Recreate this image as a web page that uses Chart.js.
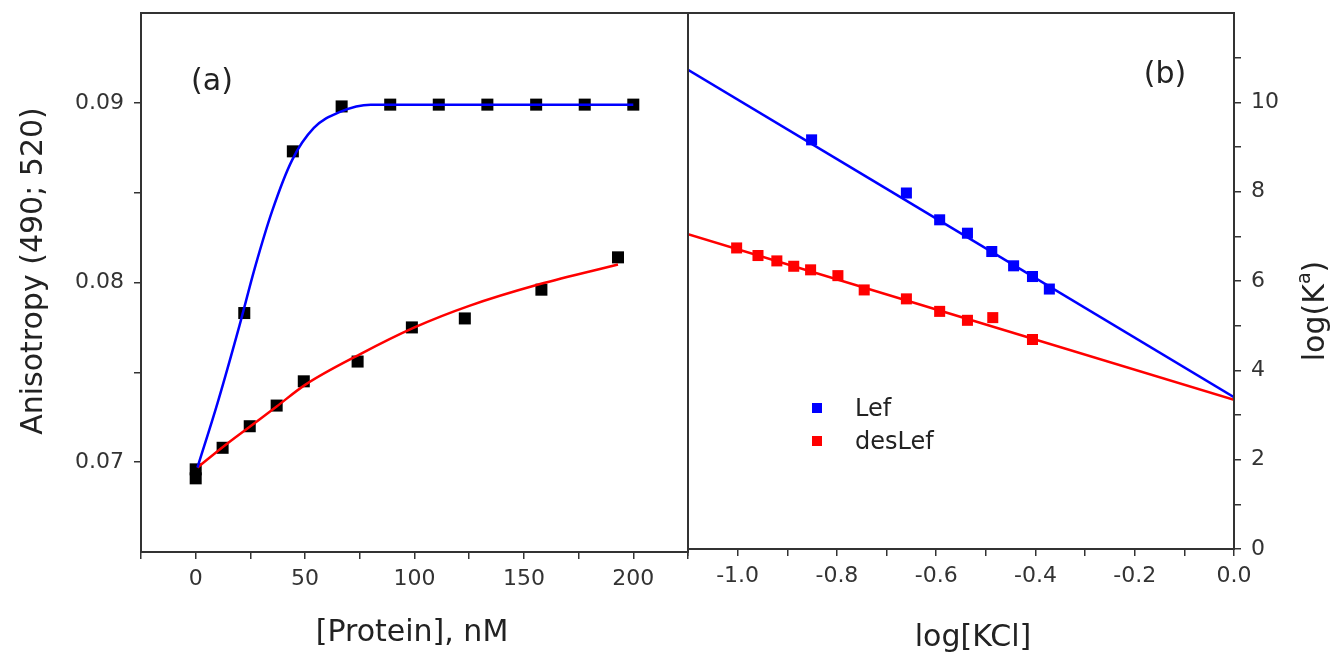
<!DOCTYPE html>
<html>
<head>
<meta charset="utf-8">
<script src="https://cdn.jsdelivr.net/npm/chart.js@4.4.0/dist/chart.umd.min.js"></script>
<style>
  html, body { margin: 0; padding: 0; background: #fff; }
  #wrap { position: relative; width: 1339px; height: 656px; overflow: hidden; }
  canvas { position: absolute; top: 0; }
  #chartA { left: 0; }
  #chartB { left: 680px; }
</style>
</head>
<body>
<div id="wrap">
  <canvas id="chartA" width="700" height="656"></canvas>
  <canvas id="chartB" width="659" height="656"></canvas>
</div>
<script>
// ---- panel (a): anisotropy vs protein concentration ----
const protLef  = [0, 22.2, 44.4, 66.7, 88.9, 111.1, 133.3, 155.6, 177.8, 200];
const anisoLef = [0.0696, 0.0783, 0.0873, 0.0898, 0.0899, 0.0899, 0.0899, 0.0899, 0.0899, 0.0899];
const protDes  = [0, 12.3, 24.7, 37.0, 49.4, 74.0, 98.8, 123.0, 158.0, 193.0];
const anisoDes = [0.0691, 0.0708, 0.0720, 0.07315, 0.0745, 0.0756, 0.0775, 0.0780, 0.0796, 0.0814];
// fitted curves
const fitLefX = [0.8, 10, 20, 27, 35, 44, 54, 66, 80, 100, 200];
const fitLefY = [0.0697, 0.0733, 0.0776, 0.0808, 0.0840, 0.0868, 0.0886, 0.0895, 0.0899, 0.0899, 0.0899];
const fitDesX = [0.8, 13, 25, 37, 50, 75, 100, 125, 157, 193];
const fitDesY = [0.0697, 0.0709, 0.0720, 0.0731, 0.0743, 0.0760, 0.0775, 0.0787, 0.0799, 0.0810];

const protTicks   = [-25, 0, 25, 50, 75, 100, 125, 150, 175, 200, 225];
const protLabels  = ['0', '50', '100', '150', '200'];
const anisoTicks  = [0.07, 0.075, 0.08, 0.085, 0.09];
const anisoLabels = ['0.07', '0.08', '0.09'];

// ---- panel (b): log K vs log[KCl] ----
const kclLef  = [-0.851, -0.660, -0.593, -0.537, -0.488, -0.444, -0.406, -0.372];
const logKLef = [9.16, 7.97, 7.37, 7.07, 6.66, 6.34, 6.10, 5.82];
const kclDes  = [-1.002, -0.959, -0.921, -0.887, -0.853, -0.798, -0.745, -0.660, -0.593, -0.537, -0.486, -0.406];
const logKDes = [6.74, 6.57, 6.45, 6.33, 6.25, 6.12, 5.80, 5.60, 5.32, 5.12, 5.18, 4.69];
const fitKclX    = [-1.1, 0];
const fitLogKLef = [10.73, 3.40];
const fitLogKDes = [7.05, 3.34];

const kclTicks   = [-1.1, -1.0, -0.9, -0.8, -0.7, -0.6, -0.5, -0.4, -0.3, -0.2, -0.1, 0];
const kclLabels  = ['-1.0', '-0.8', '-0.6', '-0.4', '-0.2', '0.0'];
const logKTicks  = [0, 1, 2, 3, 4, 5, 6, 7, 8, 9, 10, 11];
const logKLabels = ['0', '2', '4', '6', '8', '10'];

Chart.defaults.font.family = "'DejaVu Sans', sans-serif";
Chart.defaults.color = '#333';
Chart.defaults.animation = false;

const INK = '#333';
const FONT = "'DejaVu Sans', sans-serif";
const pts = (xs, ys) => xs.map((x, i) => ({ x: x, y: ys[i] }));

// label only when the tick sits on one of the listed values
const pick = (labels, digits) => v => {
  const hit = labels.find(l => Math.abs(parseFloat(l) - v) < 1e-9);
  return hit !== undefined ? hit : '';
};

// box round the plot area
const framePlugin = {
  id: 'frame',
  afterDraw(chart) {
    const { ctx, chartArea: a } = chart;
    ctx.save();
    ctx.strokeStyle = INK;
    ctx.lineWidth = 2;
    ctx.strokeRect(a.left, a.top, a.right - a.left, a.bottom - a.top);
    ctx.restore();
  }
};

// free text: axis titles and panel letters. parts = [text, size, raise]
function textPlugin(items) {
  return {
    id: 'freeText',
    afterDraw(chart) {
      const ctx = chart.ctx;
      items.forEach(t => {
        ctx.save();
        ctx.translate(t.x, t.y);
        ctx.rotate(t.rot || 0);
        ctx.fillStyle = '#222';
        ctx.textBaseline = 'middle';
        ctx.textAlign = 'left';
        let total = 0;
        t.parts.forEach(p => { ctx.font = p[1] + 'px ' + FONT; total += ctx.measureText(p[0]).width; });
        let x = -total / 2;
        t.parts.forEach(p => {
          ctx.font = p[1] + 'px ' + FONT;
          ctx.fillText(p[0], x, -(p[2] || 0));
          x += ctx.measureText(p[0]).width;
        });
        ctx.restore();
      });
    }
  };
}

// small legend inside the plot, built from labelled datasets
function legendPlugin(x0, y0, gap, textX) {
  return {
    id: 'boxLegend',
    afterDraw(chart) {
      const ctx = chart.ctx;
      let row = 0;
      chart.data.datasets.forEach(ds => {
        if (!ds.label) return;
        const y = y0 + row * gap;
        ctx.save();
        ctx.fillStyle = ds.backgroundColor;
        ctx.fillRect(x0 - 5, y - 5, 10, 10);
        ctx.fillStyle = '#222';
        ctx.font = '24px ' + FONT;
        ctx.textBaseline = 'middle';
        ctx.fillText(ds.label, textX, y + 2);
        ctx.restore();
        row++;
      });
    }
  };
}

function axis(opts) {
  return {
    type: 'linear',
    position: opts.position,
    min: opts.min,
    max: opts.max,
    border: { display: false },
    grid: { drawOnChartArea: false, drawTicks: true, tickLength: 7, color: INK, lineWidth: 1.5 },
    ticks: {
      font: { size: 22 },
      color: INK,
      padding: opts.padding,
      autoSkip: false,
      maxRotation: 0,
      minRotation: 0,
      callback: pick(opts.labels)
    },
    afterBuildTicks: s => { s.ticks = opts.ticks.map(v => ({ value: v })); },
    afterFit: s => {
      if (opts.width) s.width = opts.width;
      if (opts.height) s.height = opts.height;
      // keep the plot box where the layout padding puts it
      s.paddingTop = s.paddingBottom = s.paddingLeft = s.paddingRight = 0;
    }
  };
}

const curve = (data, color) => ({
  data: data, showLine: true, borderColor: color, borderWidth: 2.5,
  pointRadius: 0, cubicInterpolationMode: 'monotone', order: 0
});
const marks = (data, color, r, label) => ({
  label: label, data: data, showLine: false, pointStyle: 'rect',
  pointRadius: r, pointHoverRadius: r, backgroundColor: color, borderWidth: 0, order: 1
});

new Chart(document.getElementById('chartA'), {
  type: 'scatter',
  data: {
    datasets: [
      curve(pts(fitLefX, fitLefY), '#0000ff'),
      curve(pts(fitDesX, fitDesY), '#ff0000'),
      marks(pts(protLef, anisoLef), '#000', 8.5),
      marks(pts(protDes, anisoDes), '#000', 8.5)
    ]
  },
  options: {
    responsive: false,
    layout: { padding: { left: 0, right: 12, top: 13, bottom: 0 } },
    plugins: { legend: { display: false }, tooltip: { enabled: false } },
    scales: {
      x: axis({ position: 'bottom', min: -25, max: 225, ticks: protTicks, labels: protLabels, padding: 7, height: 104 }),
      y: axis({ position: 'left', min: 0.065, max: 0.095, ticks: anisoTicks, labels: anisoLabels, padding: 10, width: 141 })
    }
  },
  plugins: [framePlugin, textPlugin([
    { parts: [['(a)', 30]], x: 212, y: 82 },
    { parts: [['Anisotropy (490; 520)', 30]], x: 34, y: 271, rot: -Math.PI / 2 },
    { parts: [['[Protein], nM', 30]], x: 412, y: 633 }
  ])]
});

new Chart(document.getElementById('chartB'), {
  type: 'scatter',
  data: {
    datasets: [
      curve(pts(fitKclX, fitLogKLef), '#0000ff'),
      curve(pts(fitKclX, fitLogKDes), '#ff0000'),
      marks(pts(kclLef, logKLef), '#0000ff', 7.8, 'Lef'),
      marks(pts(kclDes, logKDes), '#ff0000', 7.8, 'desLef')
    ]
  },
  options: {
    responsive: false,
    layout: { padding: { left: 8, right: 0, top: 13, bottom: 0 } },
    plugins: { legend: { display: false }, tooltip: { enabled: false } },
    scales: {
      x: axis({ position: 'bottom', min: -1.1, max: 0, ticks: kclTicks, labels: kclLabels, padding: 7, height: 107 }),
      y: axis({ position: 'right', min: 0, max: 12, ticks: logKTicks, labels: logKLabels, padding: 10, width: 105 })
    }
  },
  plugins: [framePlugin, legendPlugin(137, 408, 33, 175), textPlugin([
    { parts: [['(b)', 30]], x: 485, y: 75 },
    { parts: [['log[KCl]', 30]], x: 293, y: 638 },
    { parts: [['log(K', 30], ['a', 19, 11], [')', 30]], x: 636, y: 311, rot: -Math.PI / 2 }
  ])]
});
</script>
</body>
</html>
